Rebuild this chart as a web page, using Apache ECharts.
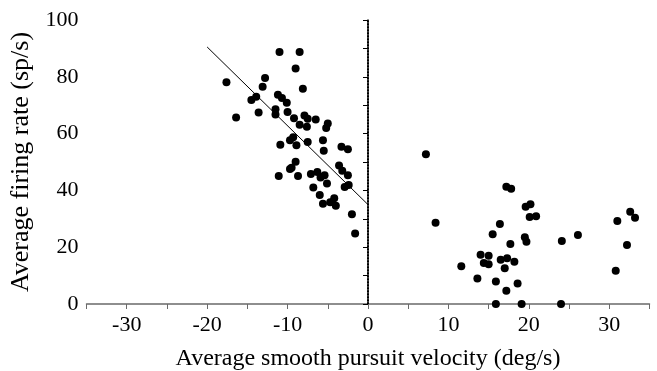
<!DOCTYPE html>
<html>
<head>
<meta charset="utf-8">
<script src="https://cdn.jsdelivr.net/npm/echarts@6/dist/echarts.min.js"></script>
<style>html,body{margin:0;padding:0;background:#fff}#c{width:657px;height:371px}</style>
</head>
<body>
<div id="c"></div>
<script>
// Left cluster (negative pursuit velocity)
const leftVelocity = [-11.0,-8.5,-9.0,-17.6,-12.8,-13.1,-8.1,-13.9,-14.5,-11.2,-10.7,-10.1,-16.4,-13.6,-11.5,-11.5,-10.0,-9.2,-8.5,-7.9,-7.5,-7.6,-6.5,-5.0,-5.2,-5.6,-5.5,-3.3,-2.5,-3.6,-3.2,-2.5,-10.9,-9.7,-9.3,-8.9,-7.5,-11.1,-8.7,-7.1,-6.3,-5.4,-9.0,-9.5,-9.7,-5.9,-5.1,-2.4,-2.9,-6.8,-6.0,-5.6,-4.7,-4.2,-4.0,-2.0,-1.6];
const leftRate     = [88.7,88.7,82.9,78.1,79.6,76.5,75.8,73.0,71.8,73.7,72.5,70.9,65.7,67.4,68.6,66.7,67.6,65.4,63.1,66.4,65.2,62.4,65.0,63.6,62.0,57.7,54.0,55.4,54.5,48.8,46.9,45.3,56.1,57.7,58.7,55.9,57.0,45.1,45.1,45.8,46.5,45.3,50.1,48.0,47.5,44.5,42.4,41.9,41.2,41.0,38.4,35.3,35.8,37.2,34.6,31.6,24.8];
// Right cluster (positive pursuit velocity)
const rightVelocity = [7.2,8.4,17.2,17.8,16.4,15.5,17.7,19.5,19.7,19.6,20.2,20.1,20.9,14.0,15.0,14.4,15.0,16.5,17.3,17.0,18.2,11.6,13.6,15.9,18.6,17.2,15.9,19.1,24.0,24.1,26.1,31.0,32.6,33.2,32.2,30.8];
const rightRate     = [52.7,28.6,41.3,40.6,28.2,24.6,21.1,23.5,21.9,34.2,35.1,30.6,30.9,17.3,17.0,14.4,14.0,15.6,16.1,12.6,14.9,13.3,9.0,7.9,7.2,4.7,0,0,0,22.2,24.3,29.2,32.5,30.4,20.8,11.7];
// Regression line endpoints and zero-velocity reference line
const fitLineX = [-20, 0];
const fitLineY = [90.5, 35];
const zeroLineX = [0, 0];
const zeroLineY = [0, 100];
// Axis ticks
const xTicks = [-30,-20,-10,0,10,20,30];
const yTicks = [0,20,40,60,80,100];

const zip = (a, b) => a.map((v, i) => [v, b[i]]);
const font = '"Liberation Serif","Times New Roman",serif';

const chart = echarts.init(document.getElementById('c'), null, {renderer: 'canvas'});
chart.setOption({
  animation: false,
  backgroundColor: '#fff',
  grid: {left: 86.5, right: 7.5, top: 20, bottom: 67, containLabel: false, outerBoundsMode: 'none'},
  xAxis: {
    type: 'value', min: -35, max: 35, interval: 5,
    name: 'Average smooth pursuit velocity (deg/s)', nameLocation: 'middle', nameGap: 43,
    nameTextStyle: {fontFamily: font, fontSize: 24, color: '#000'},
    axisLine: {show: true, onZero: false, lineStyle: {color: '#6a6a6a', width: 1.5}},
    axisTick: {show: true, inside: false, length: 5, lineStyle: {color: '#6a6a6a', width: 1}},
    axisLabel: {fontFamily: font, fontSize: 22, color: '#000', margin: 10,
      formatter: v => xTicks.includes(v) ? String(v) : ''},
    splitLine: {show: false}
  },
  yAxis: {
    type: 'value', min: 0, max: 100, interval: 10,
    name: 'Average firing rate (sp/s)', nameLocation: 'middle', nameGap: 44,
    nameTextStyle: {fontFamily: font, fontSize: 26, color: '#000'},
    axisLine: {show: true, lineStyle: {color: '#000', width: 1.5}},
    axisTick: {show: true, inside: false, length: 5, lineStyle: {color: '#000', width: 1}},
    axisLabel: {fontFamily: font, fontSize: 22, color: '#000', margin: 8,
      formatter: v => yTicks.includes(v) ? String(v) : ''},
    splitLine: {show: false}
  },
  series: [
    {type: 'line', data: zip(zeroLineX, zeroLineY), symbol: 'none', z: 3,
     lineStyle: {color: '#000', width: 2, type: [1.5, 1.5], opacity: 1}},
    {type: 'line', data: zip(fitLineX, fitLineY), symbol: 'none', z: 3,
     lineStyle: {color: '#000', width: 1, opacity: 1}},
    {type: 'scatter', data: zip(leftVelocity, leftRate), symbol: 'circle', symbolSize: 8, clip: false, z: 5,
     itemStyle: {color: '#000', opacity: 1}},
    {type: 'scatter', data: zip(rightVelocity, rightRate), symbol: 'circle', symbolSize: 8, clip: false, z: 5,
     itemStyle: {color: '#000', opacity: 1}}
  ]
});
</script>
</body>
</html>
